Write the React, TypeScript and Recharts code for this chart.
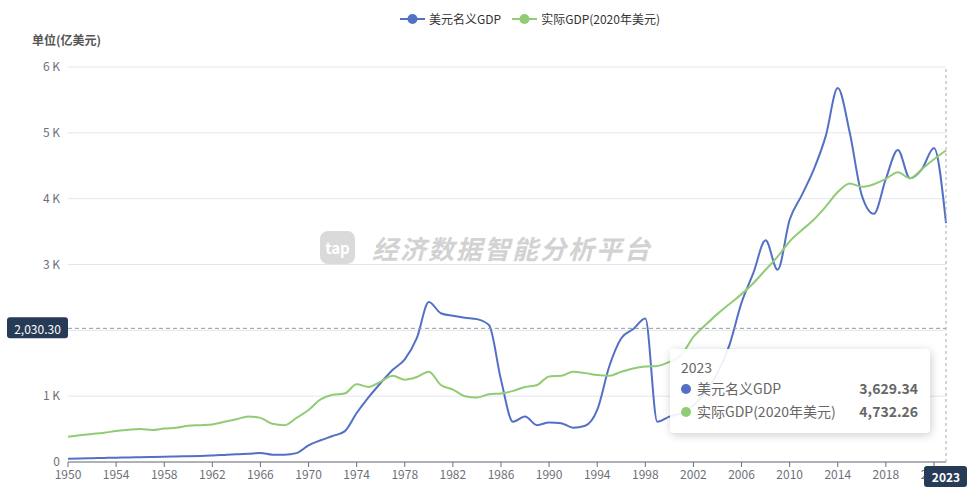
import {
  LineChart,
  Line,
  XAxis,
  YAxis,
  CartesianGrid,
  Tooltip,
  Legend,
  ReferenceLine,
} from "recharts";

const years = [
  "1950", "1951", "1952", "1953", "1954", "1955", "1956", "1957", "1958", "1959",
  "1960", "1961", "1962", "1963", "1964", "1965", "1966", "1967", "1968", "1969",
  "1970", "1971", "1972", "1973", "1974", "1975", "1976", "1977", "1978", "1979",
  "1980", "1981", "1982", "1983", "1984", "1985", "1986", "1987", "1988", "1989",
  "1990", "1991", "1992", "1993", "1994", "1995", "1996", "1997", "1998", "1999",
  "2000", "2001", "2002", "2003", "2004", "2005", "2006", "2007", "2008", "2009",
  "2010", "2011", "2012", "2013", "2014", "2015", "2016", "2017", "2018", "2019",
  "2020", "2021", "2022", "2023",
];

// 美元名义GDP (亿美元)
const nominalGdp = [
  50, 55, 58, 62, 65, 70, 73, 76, 80, 85,
  88, 93, 100, 108, 116, 125, 137, 112, 112, 135,
  253, 330, 395, 465, 744, 985, 1200, 1400, 1560, 1880,
  2430, 2260, 2220, 2190, 2170, 2080, 1250, 610, 690, 560,
  600, 590, 520, 550, 790, 1450, 1880, 2020, 2180, 610,
  690, 740, 860, 1060, 1350, 1780, 2420, 2880, 3370, 2920,
  3680, 4050, 4440, 4950, 5680, 5000, 4050, 3770, 4300, 4740,
  4310, 4450, 4770, 3629.34,
];

// 实际GDP(2020年美元)
const realGdp = [
  385, 405, 425, 445, 470, 490, 500, 486, 510, 520,
  550, 560, 570, 610, 650, 690, 670, 580, 560, 670,
  790, 950, 1020, 1040, 1180, 1140, 1220, 1310, 1250, 1290,
  1370, 1170, 1100, 1000, 980, 1030, 1040, 1080, 1140, 1170,
  1300, 1310, 1370, 1350, 1320, 1310, 1370, 1420, 1450, 1460,
  1520, 1630, 1900, 2080, 2250, 2400, 2550, 2720, 2920, 3120,
  3350, 3520, 3680, 3880, 4100, 4230, 4180, 4220, 4300, 4400,
  4310, 4450, 4600, 4732.26,
];

const seriesNames = ["美元名义GDP", "实际GDP(2020年美元)"];
const yTicks = [0, 1000, 2000, 3000, 4000, 5000, 6000];
const crossValue = 2030.3;
const activeYear = "2023";

const BLUE = "#5470c6";
const GREEN = "#91cc75";
const AXIS = "#6e7079";
const FONT = '"Noto Sans CJK SC", "Noto Sans", sans-serif';

const data = years.map((year, i) => ({
  year,
  nominal: nominalGdp[i],
  real: realGdp[i],
}));

const fmt = (v: number) =>
  v.toLocaleString("en-US", { minimumFractionDigits: 2, maximumFractionDigits: 2 });

const LegendContent = ({ payload }: any) => {
  const items = [...(payload || [])].sort(
    (a: any, b: any) => seriesNames.indexOf(a.value) - seriesNames.indexOf(b.value)
  );
  return (
    <div style={{ display: "flex", alignItems: "center", fontFamily: FONT, fontSize: 12, color: "#333" }}>
      {items.map((entry: any, i: number) => (
        <div key={i} style={{ display: "flex", alignItems: "center", marginRight: 11 }}>
          <svg width={25} height={14} style={{ marginRight: 4 }}>
            <line x1={0} y1={7} x2={25} y2={7} stroke={entry.color} strokeWidth={2} />
            <circle cx={12.5} cy={7} r={5} fill={entry.color} />
          </svg>
          <span>{entry.value}</span>
        </div>
      ))}
    </div>
  );
};

const TooltipContent = ({ payload, label }: any) => {
  if (!payload || payload.length === 0) return null;
  return (
    <div
      style={{
        width: 260,
        boxSizing: "border-box",
        background: "rgba(255,255,255,0.9)",
        borderRadius: 4,
        boxShadow: "1px 2px 10px rgba(0,0,0,0.2)",
        padding: "8px 12px 10px 11px",
        fontFamily: FONT,
        fontSize: 14,
        color: "#666",
      }}
    >
      <div style={{ lineHeight: "20px" }}>{label}</div>
      {payload.map((p: any, i: number) => (
        <div key={i} style={{ display: "flex", alignItems: "center", lineHeight: "23px" }}>
          <span
            style={{
              width: 10,
              height: 10,
              borderRadius: 5,
              background: p.color,
              marginRight: 6,
              display: "inline-block",
            }}
          />
          <span style={{ flex: 1 }}>{p.name}</span>
          <span style={{ fontWeight: 700 }}>{fmt(p.value)}</span>
        </div>
      ))}
    </div>
  );
};

const CrossYLabel = ({ viewBox }: any) => {
  const y = viewBox.y;
  return (
    <g>
      <rect x={7} y={y - 11} width={61} height={21} rx={3} fill="#283b56" />
      <text x={37.5} y={y} textAnchor="middle" dominantBaseline="central" fill="#fff" fontSize={12} fontFamily={FONT}>
        {fmt(crossValue)}
      </text>
    </g>
  );
};

const CrossXLabel = ({ viewBox }: any) => {
  const x = viewBox.x;
  const bottom = viewBox.y + viewBox.height;
  return (
    <g>
      <rect x={x - 22} y={bottom + 4} width={43} height={21} rx={3} fill="#283b56" />
      <text x={x} y={bottom + 14.5} textAnchor="middle" dominantBaseline="central" fill="#fff" fontSize={12} fontWeight={700} fontFamily={FONT}>
        {activeYear}
      </text>
    </g>
  );
};

export default function App() {
  return (
    <div style={{ position: "absolute", left: 0, top: 0, width: 979, height: 499, background: "#fff" }}>
      {/* 水印 */}
      <div
        style={{
          position: "absolute",
          left: 320,
          top: 229,
          display: "flex",
          alignItems: "center",
          pointerEvents: "none",
          fontFamily: FONT,
        }}
      >
        <div
          style={{
            width: 35,
            height: 33,
            borderRadius: 8,
            background: "#dadada",
            color: "#fff",
            fontWeight: 700,
            fontSize: 15,
            display: "flex",
            alignItems: "center",
            justifyContent: "center",
            marginRight: 17,
          }}
        >
          tap
        </div>
        <span
          style={{
            fontSize: 26,
            fontWeight: 700,
            fontStyle: "italic",
            letterSpacing: 2,
            color: "#d2d2d2",
          }}
        >
          经济数据智能分析平台
        </span>
      </div>

      <div
        style={{
          position: "absolute",
          left: 32,
          top: 31,
          fontFamily: FONT,
          fontSize: 12,
          fontWeight: 700,
          color: "#555",
        }}
      >
        单位(亿美元)
      </div>

      <div style={{ position: "absolute", left: 0, top: 0 }}>
        <LineChart width={979} height={499} data={data} margin={{ top: 67, right: 33, bottom: 0, left: 0 }}>
          <CartesianGrid vertical={false} stroke="#e0e6f1" />
          <XAxis
            dataKey="year"
            interval={3}
            height={37}
            tickSize={5}
            tickMargin={3}
            tick={{ fill: AXIS, fontSize: 12, fontFamily: FONT }}
            axisLine={{ stroke: AXIS }}
            tickLine={{ stroke: AXIS }}
          />
          <YAxis
            width={68}
            domain={[0, 6000]}
            ticks={yTicks}
            axisLine={false}
            tickLine={false}
            tickSize={0}
            tickMargin={8}
            tick={{ fill: AXIS, fontSize: 12, fontFamily: FONT }}
            tickFormatter={(v: number) => (v === 0 ? "0" : `${v / 1000} K`)}
          />
          <ReferenceLine
            y={crossValue}
            stroke="#999"
            strokeDasharray="4 3"
            label={CrossYLabel}
            zIndex={2000}
          />
          <Line
            type="monotone"
            dataKey="nominal"
            name={seriesNames[0]}
            stroke={BLUE}
            strokeWidth={2}
            dot={false}
            activeDot={false}
            isAnimationActive={false}
          />
          <Line
            type="monotone"
            dataKey="real"
            name={seriesNames[1]}
            stroke={GREEN}
            strokeWidth={2}
            dot={false}
            activeDot={false}
            isAnimationActive={false}
          />
          <ReferenceLine
            x={activeYear}
            stroke="#aaa"
            strokeDasharray="3 3"
            label={CrossXLabel}
            zIndex={2000}
          />
          <Legend
            verticalAlign="middle"
            align="center"
            layout="horizontal"
            wrapperStyle={{ left: 400, top: 10, width: "auto", height: 16 }}
            content={LegendContent}
          />
          <Tooltip
            active
            defaultIndex={73}
            cursor={false}
            isAnimationActive={false}
            position={{ x: 670, y: 349 }}
            wrapperStyle={{ outline: "none" }}
            content={TooltipContent}
          />
        </LineChart>
      </div>
    </div>
  );
}
